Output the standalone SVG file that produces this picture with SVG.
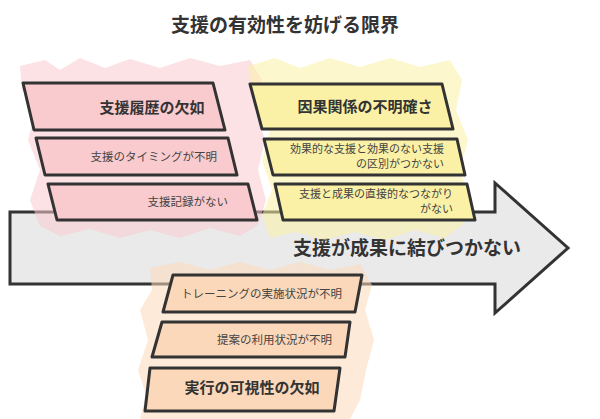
<svg xmlns="http://www.w3.org/2000/svg" width="600" height="419" viewBox="0 0 600 419">
<style>
.box{stroke:#333;stroke-width:3;stroke-linejoin:round}
.pink{fill:#f9cbce}
.yel{fill:#fbf1a6}
.peach{fill:#fbd8b9}
.blob{opacity:0.55}
.t{font-family:"Noto Sans CJK JP","Noto Sans",sans-serif;fill:#333}
.h{font-size:15px;font-weight:bold}
.s{font-size:11.5px;fill:#444}
.s2{font-size:11px;fill:#444}
</style>
<rect width="600" height="419" fill="#ffffff"/>
<text class="t" x="285" y="32" text-anchor="middle" font-size="19" font-weight="bold">支援の有効性を妨げる限界</text>

<g id="arrow">
<polygon points="10,212 495,212 495,183 568,248 495,313 495,284 10,284" fill="#eaeaea" stroke="#333" stroke-width="3" stroke-linejoin="miter"/>
<text class="t" x="407" y="255" text-anchor="middle" font-size="19" font-weight="bold">支援が成果に結びつかない</text>
</g>

<g id="blobs">
<polygon class="blob" points="20,66 45,60 60,70 80,58 105,68 130,59 160,68 190,58 220,66 250,60 262,80 255,110 265,140 258,170 266,200 258,225 240,236 210,228 180,238 150,230 120,238 90,229 60,236 40,226 30,200 40,170 28,140 36,110 22,90" fill="#f9cbce"/>
<polygon class="blob" points="248,66 275,58 300,68 330,58 360,67 390,58 420,67 450,60 462,80 456,110 468,140 460,170 470,200 462,225 445,238 415,230 385,240 355,232 325,240 295,232 270,238 262,215 272,190 262,160 270,130 258,100 250,80" fill="#fbf1a6"/>
<polygon class="blob" points="150,268 180,262 210,270 240,262 270,270 300,262 330,270 360,264 372,285 365,310 374,340 366,370 360,400 350,419 140,419 146,395 138,370 148,340 140,310 152,290" fill="#fbd8b9"/>
</g>

<g id="history-header">
<polygon class="box pink" points="23,83 213,83 225,130 34,130"/>
<text class="t h" x="152" y="113" text-anchor="middle">支援履歴の欠如</text>
</g>
<g id="history-timing">
<polygon class="box pink" points="36,138 228,138 237,175 45,175"/>
<text class="t s" x="217" y="161" text-anchor="end">支援のタイミングが不明</text>
</g>
<g id="history-record">
<polygon class="box pink" points="48,184 248,184 257,220 57,220"/>
<text class="t s" x="228" y="206" text-anchor="end">支援記録がない</text>
</g>

<g id="cause-header">
<polygon class="box yel" points="250,84 442,84 453,129 262,129"/>
<text class="t h" x="365" y="112" text-anchor="middle">因果関係の不明確さ</text>
</g>
<g id="cause-distinguish">
<polygon class="box yel" points="264,139 457,139 465,175 273,175"/>
<text class="t s2" x="444" y="153" text-anchor="end">効果的な支援と効果のない支援</text>
<text class="t s2" x="444" y="168" text-anchor="end">の区別がつかない</text>
</g>
<g id="cause-link">
<polygon class="box yel" points="275,184 467,184 475,220 283,220"/>
<text class="t s2" x="453" y="198" text-anchor="end">支援と成果の直接的なつながり</text>
<text class="t s2" x="453" y="213" text-anchor="end">がない</text>
</g>

<g id="exec-training">
<polygon class="box peach" points="173,275 362,275 355,312 163,312"/>
<text class="t s" x="342" y="298" text-anchor="end">トレーニングの実施状況が不明</text>
</g>
<g id="exec-usage">
<polygon class="box peach" points="162,322 350,322 345,357 152,357"/>
<text class="t s" x="332" y="344" text-anchor="end">提案の利用状況が不明</text>
</g>
<g id="exec-header">
<polygon class="box peach" points="150,368 340,368 334,411 145,411"/>
<text class="t h" x="252" y="393" text-anchor="middle">実行の可視性の欠如</text>
</g>
</svg>
